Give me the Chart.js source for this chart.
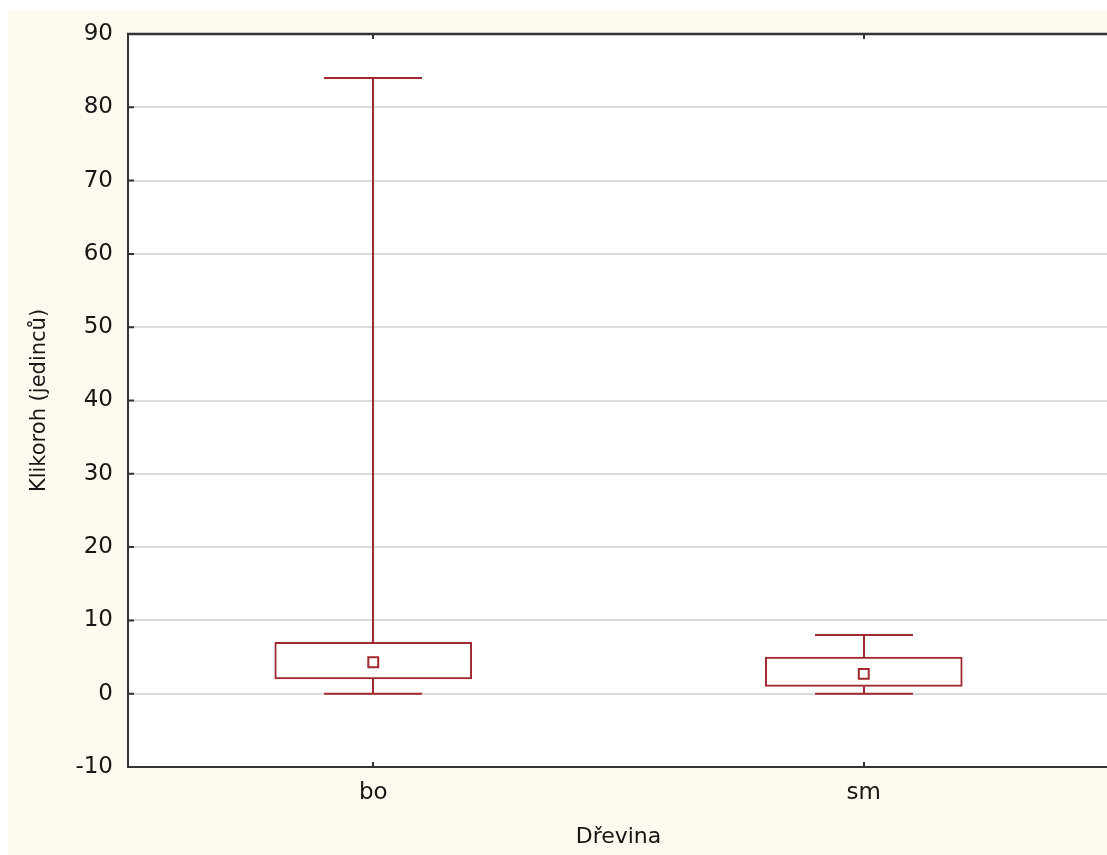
<!DOCTYPE html>
<html>
<head>
<meta charset="utf-8">
<script src="https://cdn.jsdelivr.net/npm/chart.js@4/dist/chart.umd.min.js"></script>
<style>
  html, body { margin: 0; padding: 0; background: #ffffff; overflow: hidden; }
  #wrap {
    position: absolute;
    left: 8px;
    top: 11px;
    width: 1110px;
    height: 844px;
    background: #fef9ef;
  }
</style>
</head>
<body>
<div id="wrap"><canvas id="chart" width="1110" height="844"></canvas></div>
<script>
const species = ['bo', 'sm'];
const whiskerLow = [0, 0];
const quartile1 = [2, 1];
const quartile3 = [7, 5];
const whiskerHigh = [84, 8];
const means = [4.3, 2.7];

const BOX_COLOR = '#a0282e';
const AXIS_COLOR = '#333333';
const TEXT_COLOR = '#161616';

// white plot area, whiskers, frame and inward tick marks
const boxPlotExtras = {
  id: 'boxPlotExtras',
  beforeDraw(chart) {
    const {ctx, chartArea} = chart;
    ctx.save();
    ctx.fillStyle = '#ffffff';
    ctx.fillRect(chartArea.left, chartArea.top, chartArea.right - chartArea.left + 20, chartArea.bottom - chartArea.top);
    ctx.restore();
  },
  beforeDatasetsDraw(chart) {
    const {ctx} = chart;
    const x = chart.scales.x;
    const y = chart.scales.y;
    const capHalf = 49;
    ctx.save();
    ctx.strokeStyle = BOX_COLOR;
    ctx.lineWidth = 2;
    species.forEach((name, i) => {
      const cx = Math.round(x.getPixelForValue(i));
      const yLow = y.getPixelForValue(whiskerLow[i]);
      const yHigh = y.getPixelForValue(whiskerHigh[i]);
      const yQ1 = y.getPixelForValue(quartile1[i]);
      const yQ3 = y.getPixelForValue(quartile3[i]);
      ctx.beginPath();
      ctx.moveTo(cx, yQ3);
      ctx.lineTo(cx, yHigh);
      ctx.moveTo(cx - capHalf, yHigh);
      ctx.lineTo(cx + capHalf, yHigh);
      ctx.moveTo(cx, yQ1);
      ctx.lineTo(cx, yLow);
      ctx.moveTo(cx - capHalf, yLow);
      ctx.lineTo(cx + capHalf, yLow);
      ctx.stroke();
    });
    ctx.restore();
  },
  afterDraw(chart) {
    const {ctx, chartArea} = chart;
    const x = chart.scales.x;
    const y = chart.scales.y;
    ctx.save();
    ctx.strokeStyle = AXIS_COLOR;
    ctx.lineWidth = 2.5;
    ctx.beginPath();
    ctx.moveTo(chartArea.left - 1, chartArea.top);
    ctx.lineTo(chartArea.right + 20, chartArea.top);
    ctx.stroke();

    ctx.lineWidth = 2;
    ctx.beginPath();
    y.ticks.forEach(t => {
      const py = y.getPixelForValue(t.value);
      ctx.moveTo(chartArea.left, py);
      ctx.lineTo(chartArea.left + 6, py);
    });
    species.forEach((name, i) => {
      const px = Math.round(x.getPixelForValue(i));
      ctx.moveTo(px, chartArea.top);
      ctx.lineTo(px, chartArea.top + 5);
      ctx.moveTo(px, chartArea.bottom);
      ctx.lineTo(px, chartArea.bottom - 5);
    });
    ctx.stroke();
    ctx.restore();
  }
};

new Chart(document.getElementById('chart'), {
  type: 'bar',
  data: {
    labels: species,
    datasets: [
      {
        type: 'line',
        label: 'Průměr',
        data: means,
        showLine: false,
        pointStyle: 'rect',
        pointRadius: 7,
        pointBorderWidth: 2,
        pointBackgroundColor: '#ffffff',
        pointBorderColor: BOX_COLOR,
        order: 0
      },
      {
        label: 'Kvartily',
        data: species.map((s, i) => [quartile1[i], quartile3[i]]),
        backgroundColor: '#ffffff',
        borderColor: BOX_COLOR,
        borderWidth: 2,
        borderSkipped: false,
        barThickness: 197,
        order: 1
      }
    ]
  },
  options: {
    responsive: false,
    animation: false,
    layout: {padding: {top: 23, right: 4, left: 0, bottom: 0}},
    plugins: {
      legend: {display: false},
      tooltip: {enabled: false}
    },
    scales: {
      x: {
        offset: true,
        grid: {display: false, drawTicks: false},
        border: {display: true, color: AXIS_COLOR, width: 2},
        ticks: {
          padding: 12,
          color: TEXT_COLOR,
          font: {family: 'DejaVu Sans', size: 23}
        },
        title: {
          display: true,
          text: 'Dřevina',
          color: TEXT_COLOR,
          font: {family: 'DejaVu Sans', size: 22},
          padding: {top: 0, bottom: 5}
        },
        afterFit(scale) {
          scale.height = 88;
          scale.paddingLeft = 0;
          scale.paddingRight = 0;
        }
      },
      y: {
        min: -10,
        max: 90,
        grid: {
          color: '#dcdcdc',
          lineWidth: 2,
          drawTicks: false
        },
        border: {display: true, color: AXIS_COLOR, width: 2},
        ticks: {
          stepSize: 10,
          padding: 15,
          color: TEXT_COLOR,
          font: {family: 'DejaVu Sans', size: 23}
        },
        title: {
          display: true,
          text: 'Klikoroh (jedinců)',
          color: TEXT_COLOR,
          font: {family: 'DejaVu Sans', size: 21},
          padding: {top: 19, bottom: 0}
        },
        afterFit(scale) {
          scale.width = 120;
          scale.paddingTop = 0;
          scale.paddingBottom = 0;
        }
      }
    }
  },
  plugins: [boxPlotExtras]
});
</script>
</body>
</html>
